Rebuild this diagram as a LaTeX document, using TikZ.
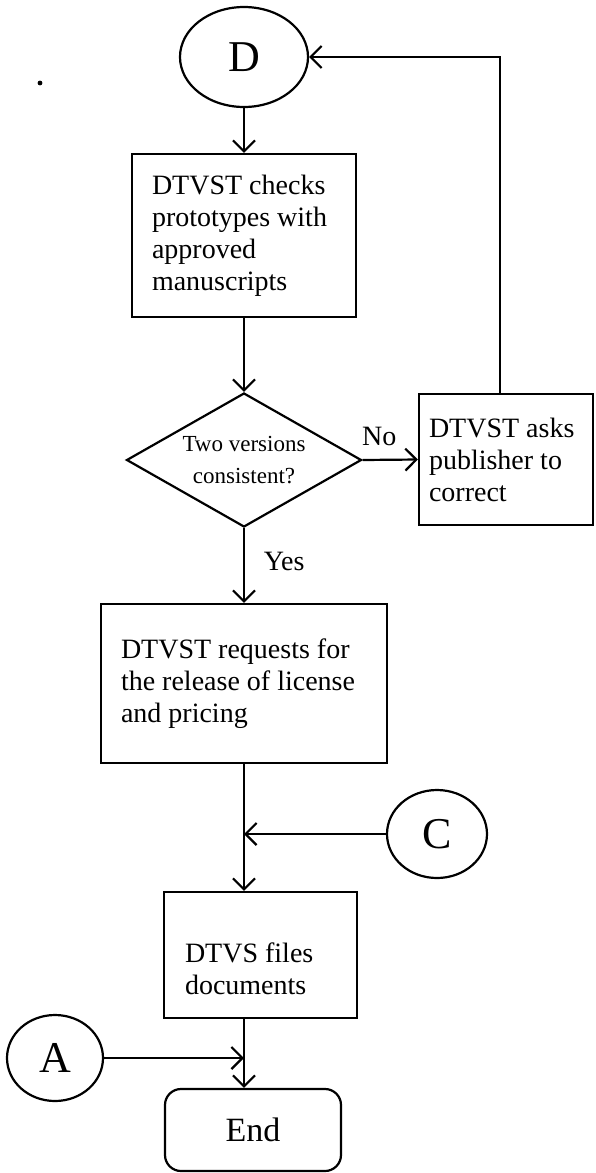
\documentclass[tikz,border=0pt]{standalone}
\usepackage{fontspec}
\setmainfont{Liberation Serif}
\usetikzlibrary{shapes.geometric,arrows.meta}

\begin{document}
\begin{tikzpicture}[x=0.5pt,y=-0.5pt,line width=1.1pt,
        arr/.style={-{Straight Barb[length=5.5pt,width=11pt]}},
        box/.style={draw, rectangle, align=flush left, inner xsep=10pt, inner ysep=0pt, font=\fontsize{14}{16}\selectfont},
        conn/.style={draw, ellipse, inner sep=0pt, font=\fontsize{22}{26}\selectfont},
        decide/.style={draw, diamond, aspect=1.75, inner sep=0pt, align=center, font=\fontsize{11.5}{16}\selectfont},
        term/.style={draw, rectangle, rounded corners=8pt, inner sep=0pt, font=\fontsize{17}{20}\selectfont},
        lbl/.style={font=\fontsize{14}{16}\selectfont}]
        \useasboundingbox (0,0) rectangle (595,1173);

        % Connectors
        \node[conn, minimum width=64pt, minimum height=50pt] (D) at (244,57) {D};
        \node[conn, minimum width=50pt, minimum height=44pt] (C) at (437,834) {C};
        \node[conn, minimum width=48pt, minimum height=43pt] (A) at (55,1058) {A};

        % Steps
        \node[box, text width=92pt, minimum height=81.5pt] (check) at (244,235.5) {DTVST checks\\prototypes with\\approved\\manuscripts};
        \node[decide, minimum width=117.5pt, minimum height=67pt] (cons) at (244,460) {Two versions\\consistent?};
        \node[box, inner xsep=5pt, text width=77pt, minimum height=65.5pt] (asks) at (506,459.5) {DTVST asks\\publisher to\\correct};
        \node[box, text width=123pt, minimum height=79.5pt] (req) at (244,683.5) {DTVST requests for\\the release of license\\and pricing};
        \node[box, inner xsep=10.5pt, text width=75.5pt, minimum height=63pt] (files) at (260.5,955) {\rule{0pt}{24pt}DTVS files\\documents};
        \node[term, minimum width=88pt, minimum height=41pt] (End) at (253,1130) {End};

        % Join points
        \coordinate (jC) at (244,834);
        \coordinate (jA) at (244,1058);

        % Flow
        \draw[arr] (D.south) -- (check.north);
        \draw[arr] (check.south) -- (cons.north);
        \draw[arr] (cons.east) -- node[lbl, above=3pt, pos=0.3] {No} (asks.west);
        \draw[arr] ([xshift=-3pt]asks.north) |- (D.east);
        \draw[arr] (cons.south) -- node[lbl, right=6pt, pos=0.45] {Yes} (req.north);
        \draw (req.south) -- (jC);
        \draw[arr] (C.west) -- (jC);
        \draw[arr] (jC) -- (files.north -| jC);
        \draw (files.south -| jA) -- (jA);
        \draw[arr] (A.east) -- (jA);
        \draw[arr] (jA) -- (End.north -| jA);

        % stray mark
        \fill (40,83) circle (1.2pt);
\end{tikzpicture}
\end{document}
